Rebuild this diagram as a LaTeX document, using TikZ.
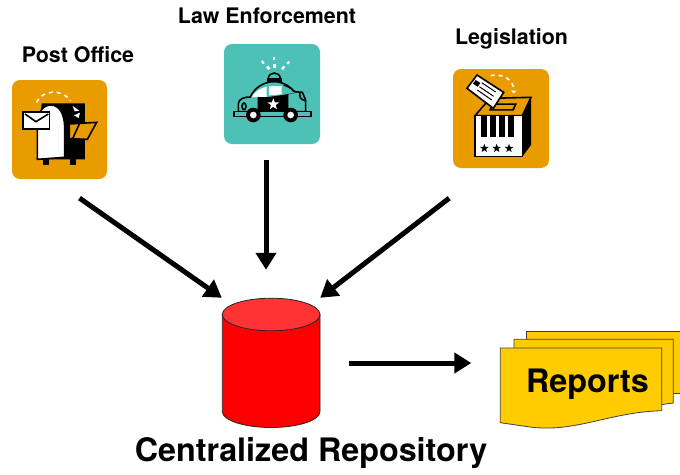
\documentclass[tikz,border=0pt]{standalone}
\usepackage{fontspec}
\setmainfont{TeX Gyre Heros}
\usetikzlibrary{arrows.meta}
\usetikzlibrary{shapes.geometric}

\definecolor{tileorange}{HTML}{E89C00}
\definecolor{tileteal}{HTML}{4DC1B6}
\definecolor{sheetyellow}{HTML}{FFCC00}
\definecolor{dbtop}{HTML}{FF3333}

\tikzset{
	tile/.style={inner sep=0pt,rounded corners=8pt},
	caption/.style={font=\bfseries\fontsize{21.4}{25}\selectfont,inner sep=0pt,anchor=base},
	bigcaption/.style={font=\bfseries\fontsize{32.3}{38}\selectfont,inner sep=0pt,anchor=base},
	flow/.style={line width=5pt,-{Triangle[length=17pt,width=20pt]}},
	sheet/.style={draw=black!75,line width=0.8pt,fill=sheetyellow},
	ink/.style={draw=black,line width=1.6pt},
	rays/.style={white,line width=1.6pt,dash pattern=on 4pt off 4pt},
	badge/.style={star,star points=5,star point ratio=2.4,inner sep=0pt,minimum size=9pt}
}

\begin{document}
\begin{tikzpicture}[x=1pt,y=-1pt]
%\draw[help lines] (0,0) grid (680,474);
\path[use as bounding box] (0,0) rectangle (680,474);

% the three tiles
\node[tile,fill=tileorange,minimum width=95pt,minimum height=99pt] (post) at (59.5,129.5) {};
\node[tile,fill=tileteal,minimum width=96pt,minimum height=100pt] (police) at (272,94) {};
\node[tile,fill=tileorange,minimum width=96pt,minimum height=99pt] (ballot) at (501,118.5) {};

\node[caption] (postlabel) at (78,62.3) {Post Office};
\node[caption] (policelabel) at (267,23) {Law Enforcement};
\node[caption] (ballotlabel) at (511.5,44.8) {Legislation};

% mail box, in zoomed units
\begin{scope}[shift={(0,40)},scale=1/3]
	\fill (125,190) -- (255,190) -- (255,358) -- (110,358) -- cycle;
	\fill (130,358) rectangle (147,375);
	\fill (210,358) rectangle (228,375);
	\draw[ink,fill=white] (112,358) -- (112,262) .. controls (112,215) and (130,195) .. (152,195)
		.. controls (180,195) and (194,225) .. (194,262) -- (194,352) -- cycle;
	\draw[ink,fill=white] (69,216) rectangle (149,267);
	\draw[ink] (75,222) -- (108,245) -- (145,222);
	\draw[line width=1.6pt,fill=tileorange] (208,252) -- (290,247) -- (262,298) -- (208,296) -- cycle;
	\draw[line width=1.6pt] (238,252) -- (218,296);
	\fill[white] (218,198) -- (238,212) -- (224,214) -- cycle;
	\fill[white] (222,226) -- (240,218) -- (236,234) -- cycle;
	\draw[rays] (110,187) .. controls (125,150) and (185,145) .. (212,182);
\end{scope}

% patrol car
\begin{scope}[shift={(215,35)},scale=1/3]
	\draw[ink,fill=tileteal] (70,230) -- (70,205) .. controls (72,190) and (90,186) .. (106,186)
		.. controls (120,155) and (150,140) .. (178,140)
		.. controls (205,140) and (225,155) .. (238,170)
		-- (262,172) -- (272,195) -- (272,230) -- cycle;
	\fill[white] (110,186) .. controls (122,168) and (135,160) .. (155,155) -- (155,186) -- cycle;
	\fill[white] (162,154) -- (200,153) -- (200,178) -- (162,181) -- cycle;
	\fill (128,186) -- (160,186) -- (202,180) -- (250,172) -- (220,178) -- (220,232) -- (128,232) -- cycle;
	\draw[ink] (206,150) .. controls (222,155) and (232,162) .. (238,170);
	\draw[ink] (255,172) .. controls (252,182) and (255,195) .. (272,197);
	\draw[ink] (87,214) circle (6 and 10);
	\node[badge,fill=white,minimum size=12pt] (carstar) at (175,208) {};
	\draw[ink,fill=tileteal] (57,229) rectangle (288,245);
	\foreach \wx in {115,227} {
		\fill (\wx,240) circle (22 and 22);
		\fill[white] (\wx,240) circle (10 and 10);
	}
	\draw[ink,fill=tileteal] (160,132) .. controls (160,108) and (196,108) .. (196,132) -- cycle;
	\fill (155,130) rectangle (200,140);
	\fill[white] (174,88) rectangle (183,100);
	\fill[white] (175,65) rectangle (181,76);
	\fill[white] (153,96) -- (160,92) -- (167,101) -- (160,105) -- cycle;
	\fill[white] (138,80) -- (143,76) -- (149,84) -- (144,88) -- cycle;
	\fill[white] (198,100) -- (205,92) -- (211,96) -- (204,105) -- cycle;
	\fill[white] (214,84) -- (220,78) -- (225,82) -- (219,89) -- cycle;
\end{scope}

% ballot box
\begin{scope}[shift={(445,60)},scale=1/3]
	\fill (232,167) -- (258,112) -- (258,255) -- (232,290) -- cycle;
	\draw[ink,fill=tileorange] (90,167) -- (135,115) -- (258,112) -- (232,167) -- cycle;
	\fill (140,130) -- (216,130) -- (206,152) -- (132,152) -- cycle;
	\fill[tileorange] (148,135) -- (208,135) -- (202,147) -- (140,147) -- cycle;
	\draw[ink,fill=white] (90,167) rectangle (232,290);
	\foreach \bx in {108,135,162,190} {
		\fill (\bx,167) rectangle ++(18,65);
	}
	\foreach \sx/\sn in {118/a,155/b,192/c} {
		\node[badge,fill=black] (vote\sn) at (\sx,265) {};
	}
	\draw[ink,fill=white] (96,45) -- (176,97) -- (145,145) -- (66,85) -- cycle;
	\fill (92,60) -- (106,69) -- (98,80) -- (84,71) -- cycle;
	\draw[black,line width=1pt] (110,68) -- (152,96) (103,80) -- (146,109) (97,90) -- (140,120);
	\draw[rays] (137,47) .. controls (170,40) and (205,55) .. (207,92);
	\fill[white] (198,92) -- (214,92) -- (206,100) -- cycle;
\end{scope}

% repository
\node[inner sep=0pt,minimum width=98pt,minimum height=130pt] (repo) at (271,363) {};
\draw[black!85,line width=0.8pt,fill=red] (222.3,314.5) -- (222.3,411.5) arc[start angle=180,end angle=360,x radius=48.85pt,y radius=16pt]
	-- (320,314.5) -- cycle;
\draw[black!85,line width=0.8pt,fill=dbtop] (271.15,314.5) ellipse (48.85pt and 16.3pt);
\node[bigcaption] (repolabel) at (311,461) {Centralized Repository};

% reports
\draw[sheet] (526.3,331.7) -- (690,331.7) -- (690,393) -- (526.3,393) -- cycle;
\draw[sheet] (514,339.3) -- (673.3,339.3) -- (673.3,403) .. controls (630,408) and (570,428) .. (514,415) -- cycle;
\draw[sheet] (500.3,348) -- (661.7,348) -- (661.7,410.7) .. controls (610,412) and (575,433) .. (530,427) -- (500.3,422.7) -- cycle;
\node[bigcaption] (reports) at (587.5,392) {Reports};
\coordinate (reportsedge) at (500.3,348);

% arrows
\draw[flow,shorten <=33pt] ([xshift=-7pt]post.south) -- (repo.north west);
\draw[flow,shorten <=16pt,shorten >=28pt] ([xshift=-6pt]police.south) -- ([xshift=-5pt]repo.north);
\draw[flow,shorten <=49pt] ([xshift=-13pt]ballot.south) -- (repo.north east);
\draw[flow,shorten <=29pt,shorten >=29pt] (repo.east) -- (repo.east -| reportsedge);
\end{tikzpicture}
\end{document}
